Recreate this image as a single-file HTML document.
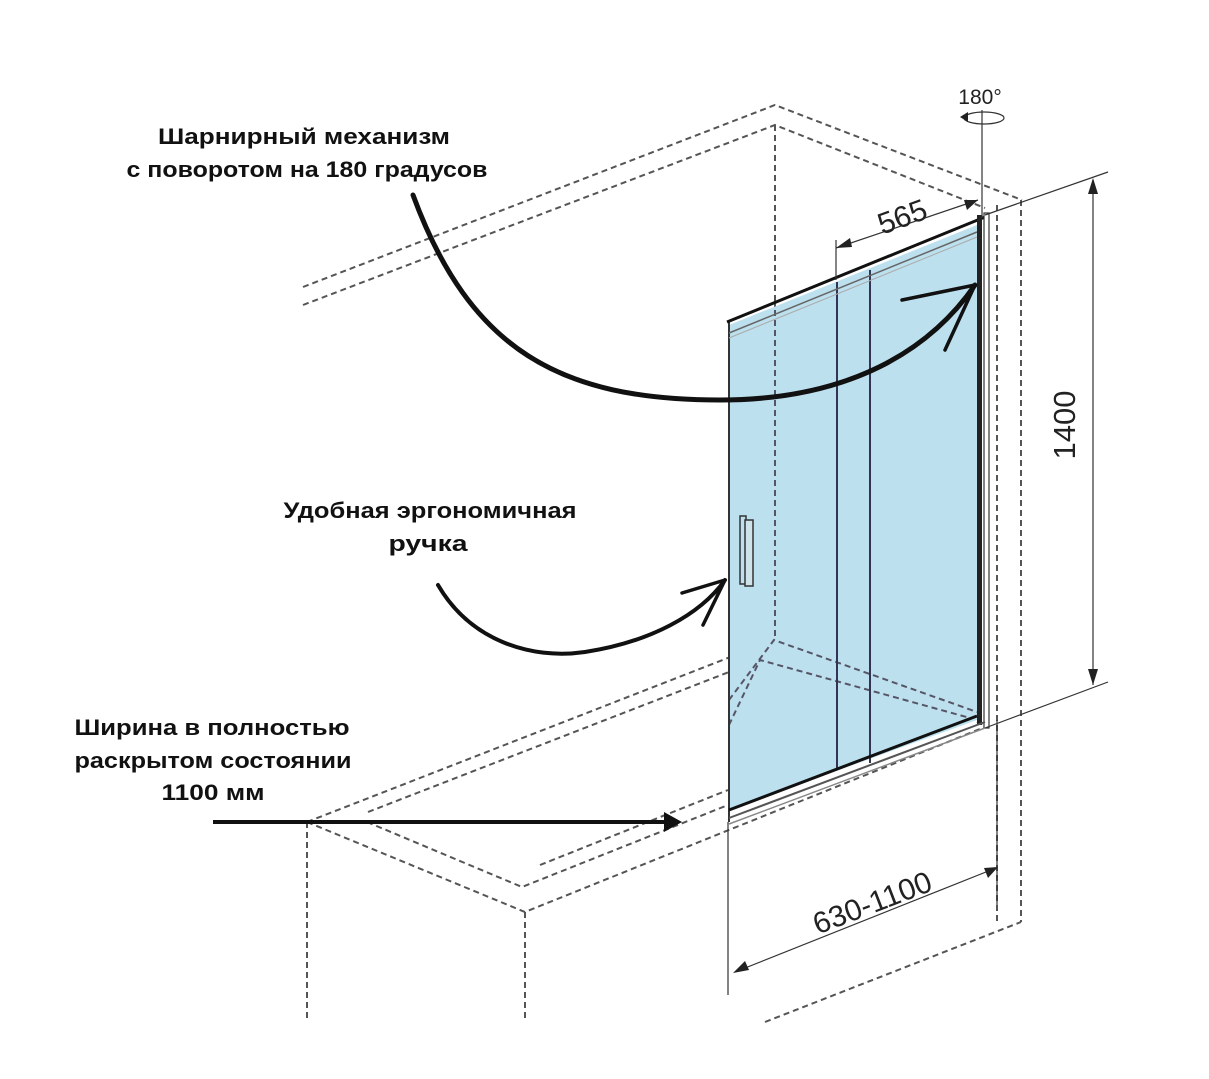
<!DOCTYPE html>
<html><head><meta charset="utf-8"><style>
html,body{margin:0;padding:0;background:#fff;}
svg{display:block;}
text{font-family:"Liberation Sans",sans-serif;}
.lb{font-weight:bold;font-size:22px;fill:#111;text-anchor:middle;}
.d{fill:none;stroke:#555;stroke-width:2;stroke-dasharray:6 4;}
.t{fill:none;stroke:#333;stroke-width:1.2;}
</style></head><body>
<svg width="1209" height="1079" viewBox="0 0 1209 1079" xmlns="http://www.w3.org/2000/svg">
<polyline class="d" points="303,287 775,105 1022,200"/>
<polyline class="d" points="303,305 775,125 985,208"/>
<line class="d" x1="775" y1="125" x2="775" y2="640"/>
<line class="d" x1="997" y1="205" x2="997" y2="925"/>
<line class="d" x1="1021" y1="200" x2="1021" y2="922"/>
<polyline class="d" points="307,822 774,640 985,725"/>
<polyline class="d" points="368,812 760,660 968,718"/>
<polyline class="d" points="307,822 525,912 985,727"/>
<polyline class="d" points="367,822 522,887 728,805"/>
<line class="d" x1="540" y1="865" x2="728" y2="790"/>
<line class="d" x1="307" y1="822" x2="307" y2="1022"/>
<line class="d" x1="525" y1="912" x2="525" y2="1022"/>
<line class="d" x1="765" y1="1022" x2="1021" y2="922"/>
<polygon points="729,325 977,225 977,720 729,810" fill="#bde0ef"/>
<line class="d" x1="775" y1="300" x2="775" y2="640" style="stroke:#556"/>
<polyline class="d" points="729,700 774,640 977,712" style="stroke:#556"/>
<polyline class="d" points="729,725 760,660 970,718" style="stroke:#556"/>
<line x1="729" y1="322" x2="729" y2="822" stroke="#333" stroke-width="2"/>
<line x1="837" y1="282" x2="837" y2="770" stroke="#335" stroke-width="2"/>
<line x1="870" y1="270" x2="870" y2="763" stroke="#335" stroke-width="2"/>
<line x1="727" y1="322" x2="985" y2="217" stroke="#111" stroke-width="3"/>
<line x1="729" y1="333" x2="977" y2="232" stroke="#666" stroke-width="1.5"/>
<line x1="729" y1="338" x2="977" y2="237" stroke="#aaa" stroke-width="1"/>
<rect x="977" y="215" width="5" height="510" fill="#222"/>
<rect x="984" y="213" width="5" height="515" fill="#fff" stroke="#333" stroke-width="1.2"/>
<line x1="729" y1="810" x2="977" y2="716" stroke="#111" stroke-width="3"/>
<line x1="729" y1="818" x2="985" y2="722" stroke="#555" stroke-width="2"/>
<line x1="729" y1="824" x2="985" y2="728" stroke="#888" stroke-width="1.5"/>
<rect x="740" y="516" width="6" height="68" fill="none" stroke="#333" stroke-width="1.5"/>
<rect x="745" y="520" width="8" height="66" fill="#cfe3ea" stroke="#333" stroke-width="1.5"/>
<line class="t" x1="836" y1="240" x2="836" y2="280"/>
<line class="t" x1="836" y1="248" x2="978" y2="200"/>
<polygon points="836,248 850,238 852,247" fill="#222"/>
<polygon points="978,200 964,200 967,210" fill="#222"/>
<text x="902" y="227" font-size="30" fill="#222" text-anchor="middle" transform="rotate(-20 902 216)">565</text>
<line class="t" x1="982" y1="110" x2="982" y2="218"/>
<ellipse cx="984" cy="118" rx="20" ry="6" class="t"/>
<polygon points="960,117 968,112 968,122" fill="#222"/>
<text x="980" y="104" font-size="21" fill="#222" text-anchor="middle">180°</text>
<line class="t" x1="985" y1="215" x2="1108" y2="172"/>
<line class="t" x1="985" y1="728" x2="1108" y2="682"/>
<line class="t" x1="1093" y1="180" x2="1093" y2="685"/>
<polygon points="1093,178 1088,194 1098,194" fill="#222"/>
<polygon points="1093,685 1088,669 1098,669" fill="#222"/>
<text x="1085" y="435" font-size="31" fill="#222" text-anchor="middle" transform="rotate(-90 1075 435)">1400</text>
<line class="t" x1="728" y1="822" x2="728" y2="995"/>
<line class="t" x1="997" y1="720" x2="997" y2="905"/>
<line class="t" x1="735" y1="972" x2="996" y2="868"/>
<polygon points="733,973 745,961 749,970" fill="#222"/>
<polygon points="998,867 984,868 988,878" fill="#222"/>
<text x="872" y="913" font-size="30" fill="#222" text-anchor="middle" transform="rotate(-21 872 902)">630-1100</text>
<path d="M413,195 C470,350 560,400 720,400 C850,400 930,350 975,285" fill="none" stroke="#111" stroke-width="5" stroke-linecap="round"/>
<path d="M902,300 L975,285 L945,350" fill="none" stroke="#111" stroke-width="3.5" stroke-linecap="round" stroke-linejoin="round"/>
<path d="M438,585 C470,640 530,660 585,652 C650,642 700,615 725,580" fill="none" stroke="#111" stroke-width="4" stroke-linecap="round"/>
<path d="M682,593 L725,580 L703,625" fill="none" stroke="#111" stroke-width="3.5" stroke-linecap="round" stroke-linejoin="round"/>
<line x1="213" y1="822" x2="666" y2="822" stroke="#111" stroke-width="4"/>
<polygon points="682,822 664,812 664,832" fill="#111"/>
<text class="lb" x="304" y="144" textLength="292" lengthAdjust="spacingAndGlyphs">Шарнирный механизм</text>
<text class="lb" x="307" y="177" textLength="361" lengthAdjust="spacingAndGlyphs">с поворотом на 180 градусов</text>
<text class="lb" x="430" y="518" textLength="293" lengthAdjust="spacingAndGlyphs">Удобная эргономичная</text>
<text class="lb" x="428" y="551" textLength="79" lengthAdjust="spacingAndGlyphs">ручка</text>
<text class="lb" x="212" y="735" textLength="275" lengthAdjust="spacingAndGlyphs">Ширина в полностью</text>
<text class="lb" x="213" y="768" textLength="277" lengthAdjust="spacingAndGlyphs">раскрытом состоянии</text>
<text class="lb" x="213" y="800" textLength="103" lengthAdjust="spacingAndGlyphs">1100 мм</text>
</svg>
</body></html>
